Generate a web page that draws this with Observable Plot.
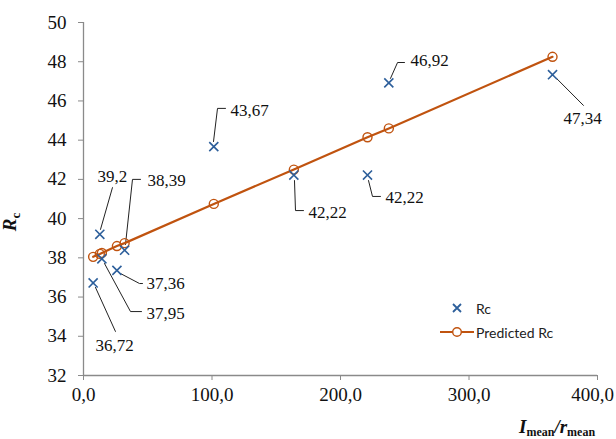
<!DOCTYPE html>
<html>
<head>
<meta charset="utf-8">
<script src="https://cdn.jsdelivr.net/npm/d3@7"></script>
<script src="https://cdn.jsdelivr.net/npm/@observablehq/plot@0.6"></script>
<style>
  body { margin: 0; background: #fff; }
  #wrap { position: relative; width: 616px; height: 439px; overflow: hidden; }
  .ov { position: absolute; white-space: nowrap; }
  .serif { font-family: "Liberation Serif", "Times New Roman", serif; }
  .leg { font-family: Lato, "Open Sans", sans-serif; font-size: 14px; color: #222; }
</style>
</head>
<body>
<div id="wrap"></div>
<script>
// ---- data ----
const xVals     = [7.5, 12.7, 14.3, 26, 32, 101.4, 163.7, 221, 237.6, 365];
const rcVals    = [36.72, 39.2, 37.95, 37.36, 38.39, 43.67, 42.22, 42.22, 46.92, 47.34];
const predVals  = [38.05, 38.2, 38.25, 38.6, 38.75, 40.75, 42.5, 44.15, 44.6, 48.25];
const xTicks = [0, 100, 200, 300];
const xTickLast = [400];
const yTicks = [32, 34, 36, 38, 40, 42, 44, 46, 48, 50];
// label positions (data units) and leader line vertices: start -> bend -> end
const labelX  = [9.3, 10.9, 49.0, 49.0, 49.8, 114.4, 175.1, 235.0, 254.5, 373.5];
const labelY  = [33.53, 42.15, 35.16, 36.69, 41.94, 45.51, 40.31, 41.08, 48.06, 45.11];
const leadX1 = [9.34, 13.23, 16.34, 28.79, 32.68, 101.17, 164.2, 221.8, 238.9, 368.1];
const leadY1 = [36.49, 39.45, 37.71, 37.20, 38.68, 43.93, 41.94, 41.94, 47.15, 47.15];
const leadX2 = [24.9, 22.57, 36.58, 43.58, 38.13, 104.28, 164.98, 224.9, 244.4, 389.1];
const leadY2 = [34.24, 41.59, 35.26, 36.69, 42.0, 45.62, 40.41, 41.13, 47.96, 45.77];
const leadX3 = [24.9, 22.57, 45.14, 45.91, 44.36, 110.51, 171.2, 231.1, 249.8, 389.1];
const leadY3 = [34.24, 41.59, 35.26, 36.69, 42.0, 45.62, 40.41, 41.13, 47.96, 45.77];

const pts = xVals.map((x, i) => ({x, rc: rcVals[i], pred: predVals[i]}));
const labels = rcVals.map((v, i) => ({x: labelX[i], y: labelY[i], t: String(v).replace(".", ",")}));
const leaders = [];
rcVals.forEach((v, i) => {
  leaders.push({x: leadX1[i], y: leadY1[i], g: i});
  leaders.push({x: leadX2[i], y: leadY2[i], g: i});
  leaders.push({x: leadX3[i], y: leadY3[i], g: i});
});

const axisColor = "#8a8a8a";
const blue = "#2d5f9b";
const orange = "#c0530f";
const serif = "Times New Roman";
const fmt = d => d.toFixed(1).replace(".", ",");
const xAxisOpts = {tickFormat: fmt, tickSize: 5, tickPadding: 7, stroke: axisColor, fill: "#111", label: null, fontSize: 19, fontFamily: serif};

const plot = Plot.plot({
  width: 616, height: 439,
  marginLeft: 83, marginRight: 19, marginTop: 22, marginBottom: 64,
  x: {domain: [0, 400]},
  y: {domain: [32, 50]},
  marks: [
    Plot.axisX({...xAxisOpts, ticks: xTicks}),
    Plot.axisX({...xAxisOpts, ticks: xTickLast, tickFormat: () => ""}),
    Plot.axisX({...xAxisOpts, ticks: xTickLast, tickSize: 0, tickPadding: 12, dx: -5}),
    Plot.axisY({ticks: yTicks, tickSize: 5, tickPadding: 12, stroke: axisColor, fill: "#111", label: null, fontSize: 19, fontFamily: serif}),
    Plot.ruleY([32], {stroke: axisColor, strokeWidth: 1.3}),
    Plot.ruleX([0], {stroke: axisColor, strokeWidth: 1.3}),
    Plot.line(leaders, {x: "x", y: "y", z: "g", stroke: "#222", strokeWidth: 1, curve: "linear"}),
    Plot.text(labels, {x: "x", y: "y", text: "t", textAnchor: "start", lineAnchor: "middle", fontSize: 17, fontFamily: serif, fill: "#111"}),
    Plot.line(pts, {x: "x", y: "pred", stroke: orange, strokeWidth: 2.2}),
    Plot.dot(pts, {x: "x", y: "pred", r: 4.5, stroke: orange, strokeWidth: 1.4, fill: "none"}),
    Plot.dot(pts, {x: "x", y: "rc", symbol: "times", r: 4.2, stroke: blue, strokeWidth: 1.6})
  ]
});

const wrap = document.getElementById("wrap");
wrap.appendChild(plot);

// axis titles
const yt = document.createElement("div");
yt.className = "ov serif";
yt.style.cssText = "left:4px;top:209px;transform:rotate(-90deg);transform-origin:center;font-size:19px;font-weight:bold;font-style:italic;color:#111;line-height:20px;";
yt.innerHTML = 'R<span style="font-size:13px;font-style:normal;vertical-align:-4px;">c</span>';
wrap.appendChild(yt);

const xt = document.createElement("div");
xt.className = "ov serif";
xt.style.cssText = "left:519px;top:417px;font-size:19px;font-weight:bold;font-style:italic;color:#111;line-height:20px;";
xt.innerHTML = 'I<span style="font-size:12px;font-style:normal;vertical-align:-3px;">mean</span>/r<span style="font-size:12px;font-style:normal;vertical-align:-3px;">mean</span>';
wrap.appendChild(xt);

// legend
const leg = document.createElement("div");
leg.className = "ov leg";
leg.style.cssText = "left:438px;top:296px;";
leg.innerHTML = `
  <div style="display:flex;align-items:center;height:24px;">
    <svg width="36" height="20"><path d="M15,6 L23,14 M23,6 L15,14" stroke="${blue}" stroke-width="1.8"/></svg>
    <span style="margin-left:2px;">Rc</span>
  </div>
  <div style="display:flex;align-items:center;height:24px;">
    <svg width="36" height="20"><line x1="2" y1="10" x2="36" y2="10" stroke="${orange}" stroke-width="2.2"/><circle cx="19" cy="10" r="4.3" fill="#fff" stroke="${orange}" stroke-width="1.4"/></svg>
    <span style="margin-left:2px;">Predicted Rc</span>
  </div>`;
wrap.appendChild(leg);
</script>
</body>
</html>
